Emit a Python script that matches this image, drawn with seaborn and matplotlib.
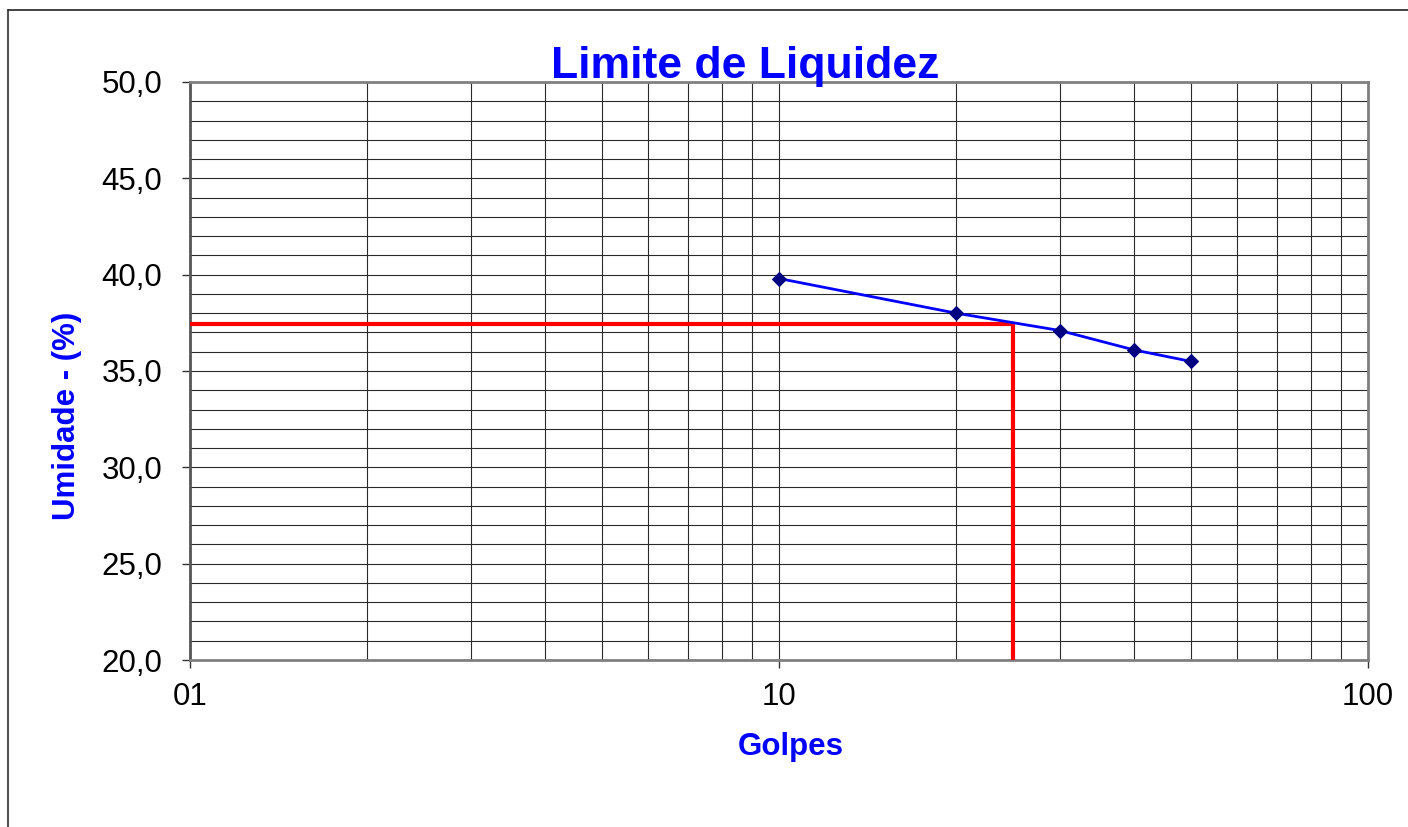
import numpy as np
import pandas as pd
import seaborn as sns
import matplotlib.pyplot as plt
from matplotlib.ticker import FixedLocator, FixedFormatter, LogLocator, NullFormatter
from matplotlib.lines import Line2D

golpes = [10, 20, 30, 40, 50]
umidade = [39.8, 38.0, 37.1, 36.1, 35.5]
ll_golpes = 25
ll_umidade = 37.45

x_ticks = [1, 10, 100]
x_tick_labels = ["01", "10", "100"]
y_ticks = [20, 25, 30, 35, 40, 45, 50]

df = pd.DataFrame({"Golpes": golpes, "Umidade": umidade})

sns.set_theme(style="white")
plt.rcParams['font.family'] = ['Liberation Sans', 'DejaVu Sans']

fig = plt.figure(figsize=(14.08, 8.27), dpi=100)
ax = fig.add_axes([190 / 1408, 1 - 660 / 827, (1368 - 190) / 1408, (660 - 82) / 827])

ax.set_xscale('log')
ax.set_xlim(1, 100)
ax.set_ylim(20, 50)

# grid
ax.xaxis.set_major_locator(FixedLocator(x_ticks))
ax.xaxis.set_major_formatter(FixedFormatter(x_tick_labels))
ax.xaxis.set_minor_locator(LogLocator(base=10, subs=np.arange(2, 10)))
ax.xaxis.set_minor_formatter(NullFormatter())
ax.yaxis.set_major_locator(FixedLocator(y_ticks))
ax.yaxis.set_major_formatter(FixedFormatter([f"{v:.1f}".replace('.', ',') for v in y_ticks]))
ax.yaxis.set_minor_locator(FixedLocator(np.arange(20, 51, 1)))
ax.grid(which='both', color='#2a2a2a', linewidth=0.8)
ax.set_axisbelow(True)

ax.hlines(ll_umidade, 1, ll_golpes, color='#FF0000', linewidth=3, zorder=3)
ax.vlines(ll_golpes, 20, ll_umidade, color='#FF0000', linewidth=3, zorder=3)

sns.lineplot(data=df, x="Golpes", y="Umidade", ax=ax, color='#0000FF', linewidth=2,
             marker='D', markersize=7, markerfacecolor='#000080', markeredgecolor='#000080',
             zorder=4)

for s in ax.spines.values():
    s.set_color('#808080')
    s.set_linewidth(2)
ax.spines['left'].set_color('#555555')

ax.tick_params(axis='both', which='major', direction='out', length=6, width=1,
               color='#333333', labelsize=22.5, labelcolor='black', left=True, bottom=True)
ax.tick_params(axis='y', which='major', pad=14)
ax.tick_params(axis='x', which='major', pad=10)
ax.tick_params(which='minor', length=0)

ax.set_xlabel("Golpes", fontsize=22.5, fontweight='bold', color='#0000FF')
ax.xaxis.set_label_coords(0.51, -0.125)
ax.set_ylabel("Umidade - (%)", fontsize=22.5, fontweight='bold', color='#0000FF')
ax.yaxis.set_label_coords(-0.092, 0.422)

fig.text(745 / 1408, 1 - 78 / 827, "Limite de Liquidez", fontsize=32, fontweight='bold',
         color='#0000FF', ha='center', va='baseline')

# chart border
fig.add_artist(Line2D([8 / 1408, 8 / 1408], [0, 1 - 10 / 827], transform=fig.transFigure,
                      color='#555555', linewidth=1.5))
fig.add_artist(Line2D([8 / 1408, 1], [1 - 10 / 827, 1 - 10 / 827], transform=fig.transFigure,
                      color='#222222', linewidth=1.2))

fig.savefig("out.png", dpi=100)
